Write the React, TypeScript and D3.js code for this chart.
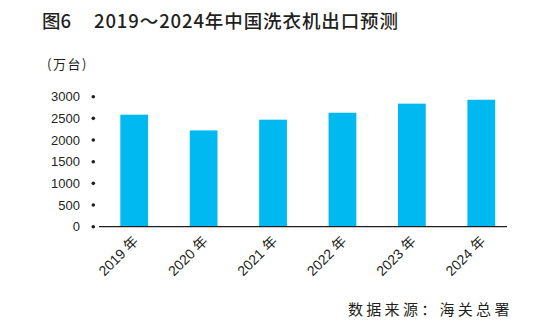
import React from "react";
import * as d3 from "d3";

const categories = ["2019 年", "2020 年", "2021 年", "2022 年", "2023 年", "2024 年"];
const values = [2585, 2222, 2470, 2630, 2840, 2930];
const yTicks = [0, 500, 1000, 1500, 2000, 2500, 3000];

const W = 545;
const H = 326;
const TEXT = "#231f20";
const BAR = "#00b9f1";

export default function App() {
  const y = d3.scaleLinear().domain([0, 3000]).range([226.7, 96.7]);
  const x = d3
    .scaleBand<string>()
    .domain(categories)
    .range([99.5, 516])
    .paddingInner(0.6)
    .paddingOuter(0.3);
  const sans = "'Liberation Sans', Arial, 'Noto Sans CJK SC', sans-serif";
  const cjk = "'Noto Sans CJK SC', sans-serif";
  return (
    <svg
      width={W}
      height={H}
      style={{ position: "absolute", left: 0, top: 0, background: "#fff" }}
    >
      <text x={42} y={28} fontFamily={cjk} fontSize={18.5} fontWeight={500} fill={TEXT}>
        图6
      </text>
      <text x={94} y={28} fontFamily={cjk} fontSize={18.5} fontWeight={500} fill={TEXT} textLength={304} lengthAdjust="spacing">
        2019～2024年中国洗衣机出口预测
      </text>
      <text x={47} y={69} fontFamily={cjk} fontSize={13} fill={TEXT} letterSpacing={1.5}>
        (万台)
      </text>
      {yTicks.map((t) => (
        <g key={t}>
          <text x={80} y={y(t) + 4.5} textAnchor="end" fontFamily={sans} fontSize={13} fill={TEXT}>
            {t}
          </text>
          <circle cx={93.3} cy={y(t)} r={1.8} fill={TEXT} />
        </g>
      ))}
      {categories.map((c, i) => (
        <rect
          key={c}
          x={x(c)}
          y={y(values[i])}
          width={x.bandwidth()}
          height={y(0) - y(values[i])}
          fill={BAR}
        />
      ))}
      <line x1={99} x2={507} y1={y(0)} y2={y(0)} stroke={TEXT} strokeWidth={1.2} />
      {categories.map((c) => {
        const cx = (x(c) as number) + x.bandwidth() / 2 + 5;
        const cy = 242;
        return (
          <text
            key={c}
            x={cx}
            y={cy}
            textAnchor="end"
            transform={`rotate(-45 ${cx} ${cy})`}
            fontFamily={sans}
            fontSize={14}
            fill={TEXT}
          >
            {c}
          </text>
        );
      })}
      <text x={348} y={315} fontFamily={cjk} fontSize={15} fill={TEXT} letterSpacing={3.3}>
        数据来源：海关总署
      </text>
    </svg>
  );
}
